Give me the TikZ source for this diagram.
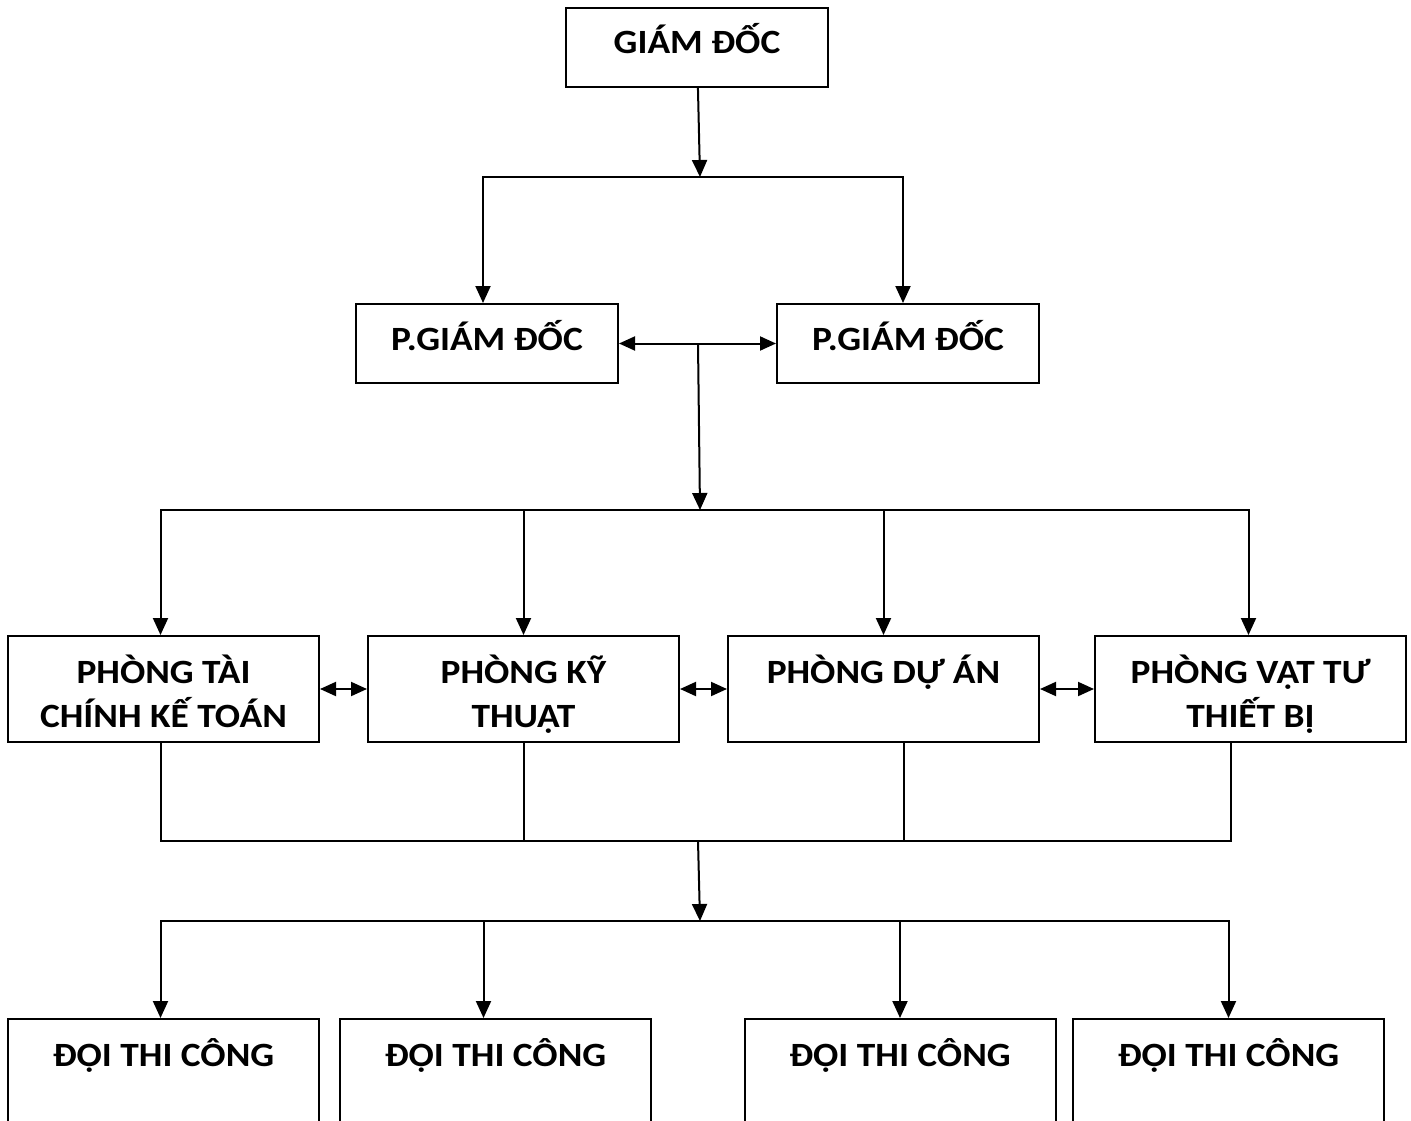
\documentclass[tikz,border=0pt]{standalone}
\usepackage{fontspec}
\setmainfont{Carlito}[FakeStretch=1.1]
\usetikzlibrary{arrows.meta}
\newcommand\boxstrut{\rule[-6pt]{0pt}{44pt}}

\begin{document}
\begin{tikzpicture}[x=1pt, y=-1pt, line width=2pt,
	box/.style={draw, inner sep=0pt, align=center, font=\bfseries\fontsize{34}{44}\selectfont},
	head/.style={box, minimum width=262pt, minimum height=79pt, text height=22pt, text depth=9pt},
	dept/.style={box, minimum width=311pt, minimum height=106pt},
	arr/.style={-{Triangle[length=17pt, width=15pt]}},
	dbl/.style={{Triangle[length=16pt, width=14pt]}-{Triangle[length=16pt, width=14pt]}}]
	\useasboundingbox (0,0) rectangle (1411,1121);
	\clip (0,0) rectangle (1411,1121);
	% boxes
	\node[head] (gd) at (697,47.5) {GIÁM ĐỐC};
	\node[head] (pgd1) at (487,343.5) {P.GIÁM ĐỐC};
	\node[head] (pgd2) at (908,343.5) {P.GIÁM ĐỐC};
	\node[dept] (tckt) at (163.5,689) {\boxstrut PHÒNG TÀI\\\boxstrut CHÍNH KẾ TOÁN};
	\node[dept] (kt) at (523.5,689) {\boxstrut PHÒNG KỸ\\\boxstrut THUẬT};
	\node[dept] (da) at (883.5,689) {\boxstrut PHÒNG DỰ ÁN\\\boxstrut};
	\node[dept] (vt) at (1250.5,689) {\boxstrut PHÒNG VẬT TƯ\\\boxstrut THIẾT BỊ};
	\node[dept] (tc1) at (163.5,1072) {\boxstrut ĐỘI THI CÔNG\\\boxstrut};
	\node[dept] (tc2) at (495.5,1072) {\boxstrut ĐỘI THI CÔNG\\\boxstrut};
	\node[dept] (tc3) at (900,1072) {\boxstrut ĐỘI THI CÔNG\\\boxstrut};
	\node[dept] (tc4) at (1228.5,1072) {\boxstrut ĐỘI THI CÔNG\\\boxstrut};
	% junctions
	\coordinate (j1) at (700,177);
	\coordinate (j2) at (698,343.5);
	\coordinate (j3) at (700,510);
	\coordinate (j4) at (698,841);
	\coordinate (j5) at (700,921);
	% connectors
	\draw[arr] (gd) -- (j1);
	\draw[arr] (j1) -| ([xshift=-4pt]pgd1.north);
	\draw[arr] (j1) -| ([xshift=-5pt]pgd2.north);
	\draw[dbl] (pgd1) -- (pgd2);
	\draw[arr] (j2) -- (j3);
	\draw[arr] (j3) -| ([xshift=-3pt]tckt.north);
	\draw[arr] (j3) -| (kt.north);
	\draw[arr] (j3) -| (da.north);
	\draw[arr] (j3) -| ([xshift=-2pt]vt.north);
	\draw[dbl] (tckt) -- (kt);
	\draw[dbl] (kt) -- (da);
	\draw[dbl] (da) -- (vt);
	\draw ([xshift=-3pt]tckt.south) |- (j4);
	\draw (kt.south) |- (j4);
	\draw ([xshift=20pt]da.south) |- (j4);
	\draw ([xshift=-20pt]vt.south) |- (j4);
	\draw[arr] (j4) -- (j5);
	\draw[arr] (j5) -| ([xshift=-3pt]tc1.north);
	\draw[arr] (j5) -| ([xshift=-12pt]tc2.north);
	\draw[arr] (j5) -| (tc3.north);
	\draw[arr] (j5) -| (tc4.north);
\end{tikzpicture}
\end{document}
